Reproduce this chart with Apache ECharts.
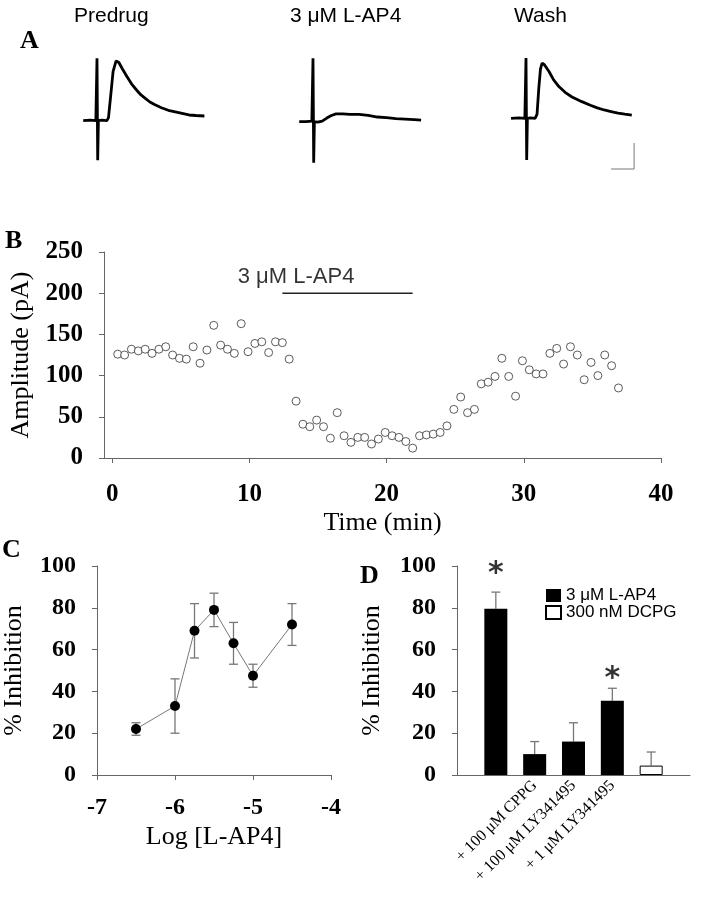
<!DOCTYPE html>
<html><head><meta charset="utf-8">
<script src="https://cdn.jsdelivr.net/npm/echarts@6/dist/echarts.min.js"></script>
<style>html,body{margin:0;padding:0;background:#fff}#c{width:710px;height:899px}</style>
</head><body><div id="c"></div>
<script>
// ---------- Panel A: example traces [ms from stimulus, pA from baseline] ----------
const tracePredrug = [[-6,0],[-3,1],[-0.5,0],[0,0],[0,120],[0.3,-76],[0.6,0],[2,1],[4.3,0],[5,6],[6,50],[7,95],[8.3,115],[9.5,112],[11,100],[13,85],[15,71],[17,60],[19,50],[21,43],[23,36],[25,31],[28,25],[31,20],[34,17],[37,14],[40,11],[43,10],[46.7,9]];
const traceLAP4 = [[-6,0],[-3,0],[-0.5,1],[0,0],[0,122],[0.3,-79],[0.6,0],[2,-1],[4,1],[6,7],[8,12],[10,15],[13,15],[16,14],[20,14],[24,12],[28,9],[32,8],[36,6],[40,5],[44,4],[47,3]];
const traceWash = [[-6.5,0],[-3,1],[-0.5,0],[0,0],[0,116],[0.3,-80],[0.6,0],[2,1],[4,0],[4.8,8],[5.6,60],[6.3,95],[7,106],[8,103],[10,90],[12,74],[14.3,61],[17,50],[20,41],[24.3,32],[28,25],[31,20],[34,16],[37,13],[40,10],[43,8],[46,6.3]];
const scaleBar = [[37,-97.5],[47,-97.5],[47,-47.5]];
const traceTitles = ['Predrug', '3 \u03bcM L-AP4', 'Wash'];

// ---------- Panel B: amplitude time course ----------
const timeMin = [0.4,0.9,1.4,1.9,2.4,2.9,3.4,3.9,4.4,4.9,5.4,5.9,6.4,6.9,7.4,7.9,8.4,8.9,9.4,9.9,10.4,10.9,11.4,11.9,12.4,12.9,13.4,13.9,14.4,14.9,15.4,15.9,16.4,16.9,17.4,17.9,18.4,18.9,19.4,19.9,20.4,20.9,21.4,21.9,22.4,22.9,23.4,23.9,24.4,24.9,25.4,25.9,26.4,26.9,27.4,27.9,28.4,28.9,29.4,29.9,30.4,30.9,31.4,31.9,32.4,32.9,33.4,33.9,34.4,34.9,35.4,35.9,36.4,36.9];
const amplitude = [126,125,132,130,132,127,132,135,125,121,120,135,115,131,161,137,132,127,163,129,139,141,128,141,140,120,69,
  41,38,46,38,24,55,27,19,25,25,17,23,31,27,25,20,12,27,
  28,29,31,39,59,74,55,59,90,92,99,121,99,75,118,107,102,102,127,133,114,135,125,95,116,100,125,112,85];
const drugBar = [[12.4,200],[21.9,200]];
const drugLabel = [[13.4,220]];
const bXTicks = [0,10,20,30,40];

// ---------- Panel C: concentration-response ----------
const logConc = [-6.5,-6,-5.75,-5.5,-5.25,-5,-4.5];
const inhibC = [22,33,69,79,63,47.5,72];
const semC = [3,13,13,8,10,5.5,10];

// ---------- Panel D: antagonists ----------
const dCategories = ['', '', '+ 100 \u03bcM CPPG', '+ 100 \u03bcM LY341495', '+ 1 \u03bcM LY341495', '', ''];
const lap4Vals = [null, 79.5, 10, 16, 35.5, null, null];
const dcpgVals = [null, null, null, null, null, 4.5, null];
const semD = [null, 8, 6, 9, 6, 6.5, null];
const starY = [null, 96, null, null, 46, null, null];

const SERIF = 'Liberation Serif', SANS = 'Liberation Sans';
const axisCol = '#666';

function pairs(xs, ys) { return xs.map((x, i) => [x, ys[i]]); }

function hiddenAxis(min, max) {
  return { type: 'value', min, max, show: false };
}
function numAxis(o, fs) {
  return Object.assign({
    type: 'value',
    axisLine: { show: true, onZero: false, lineStyle: { color: axisCol, width: 1 } },
    axisTick: { show: true, length: 5, lineStyle: { color: axisCol } },
    splitLine: { show: false },
    axisLabel: { color: '#000', fontFamily: SERIF, fontWeight: 'bold', fontSize: fs, margin: 21 },
    nameTextStyle: { color: '#000', fontFamily: SERIF, fontSize: 26 }
  }, o);
}

const traceGrids = [
  { left: 83.2, top: 55.7, width: 124.2, height: 119.6 },
  { left: 299.2, top: 56.7, width: 124.2, height: 119.6 },
  { left: 512.2, top: 53.3, width: 124.2, height: 119.6 }
];

function errRender(upOnly) {
  return function (params, api) {
    const x = api.value(0), y = api.value(1), e = api.value(2);
    const hi = api.coord([x, y + e]);
    const lo = api.coord(upOnly ? [x, y] : [x, y - e]);
    const w = 4.5;
    const st = { stroke: '#777', lineWidth: 1.3 };
    const ch = [
      { type: 'line', shape: { x1: hi[0], y1: hi[1], x2: lo[0], y2: lo[1] }, style: st },
      { type: 'line', shape: { x1: hi[0] - w, y1: hi[1], x2: hi[0] + w, y2: hi[1] }, style: st }
    ];
    if (!upOnly) ch.push({ type: 'line', shape: { x1: lo[0] - w, y1: lo[1], x2: lo[0] + w, y2: lo[1] }, style: st });
    return { type: 'group', children: ch };
  };
}

const traceLine = (data, idx) => ({
  type: 'line', xAxisIndex: idx, yAxisIndex: idx, data, symbol: 'none', clip: false,
  lineStyle: { color: '#000', width: 2.8 }, silent: true, animation: false
});

const chart = echarts.init(document.getElementById('c'), null, { renderer: 'canvas' });
chart.setOption({
  animation: false,
  backgroundColor: '#fff',
  grid: [
    ...traceGrids,
    { left: 97, top: 252, width: 564, height: 206 },
    { left: 97, top: 566, width: 234, height: 209 },
    { left: 457, top: 566, width: 233, height: 209 }
  ],
  xAxis: [
    Object.assign(hiddenAxis(-6, 48), { gridIndex: 0 }),
    Object.assign(hiddenAxis(-6, 48), { gridIndex: 1 }),
    Object.assign(hiddenAxis(-6, 48), { gridIndex: 2 }),
    numAxis({
      gridIndex: 3, min: -0.6, max: 40,
      axisTick: { show: true, length: 5, lineStyle: { color: axisCol }, customValues: bXTicks },
      axisLabel: { color: '#000', fontFamily: SERIF, fontWeight: 'bold', fontSize: 25, margin: 24, customValues: bXTicks },
      name: 'Time (min)', nameLocation: 'middle', nameGap: 52
    }, 25),
    numAxis({
      gridIndex: 4, min: -7, max: -4, interval: 1,
      axisLabel: { color: '#000', fontFamily: SERIF, fontWeight: 'bold', fontSize: 24, margin: 21 },
      name: 'Log [L-AP4]', nameLocation: 'middle', nameGap: 49
    }, 24),
    {
      type: 'category', gridIndex: 5, data: dCategories, boundaryGap: false,
      axisLine: { show: true, onZero: false, lineStyle: { color: axisCol, width: 1 } },
      axisTick: { show: false },
      axisLabel: { interval: 0, rotate: 45, color: '#000', fontFamily: SERIF, fontSize: 16, margin: 8 }
    }
  ],
  yAxis: [
    Object.assign(hiddenAxis(-105, 125), { gridIndex: 0 }),
    Object.assign(hiddenAxis(-105, 125), { gridIndex: 1 }),
    Object.assign(hiddenAxis(-105, 125), { gridIndex: 2 }),
    numAxis({ gridIndex: 3, min: 0, max: 250, interval: 50, name: 'Amplitude (pA)', nameLocation: 'middle', nameGap: 70 }, 25),
    numAxis({ gridIndex: 4, min: 0, max: 100, interval: 20, name: '% Inhibition', nameLocation: 'middle', nameGap: 70 }, 24),
    numAxis({ gridIndex: 5, min: 0, max: 100, interval: 20, name: '% Inhibition', nameLocation: 'middle', nameGap: 72 }, 24)
  ],
  legend: {
    data: ['3 \u03bcM L-AP4', '300 nM DCPG'], orient: 'vertical', left: 545, top: 587, padding: 0,
    icon: 'rect', itemWidth: 15, itemHeight: 13, itemGap: 0,
    textStyle: { color: '#000', fontFamily: SANS, fontSize: 17 },
    selectedMode: false
  },
  graphic: [
    { type: 'text', left: 20, top: 28, style: { text: 'A', font: 'bold 26px "Liberation Serif"', fill: '#000' } },
    { type: 'text', left: 5, top: 228, style: { text: 'B', font: 'bold 26px "Liberation Serif"', fill: '#000' } },
    { type: 'text', left: 2, top: 537, style: { text: 'C', font: 'bold 26px "Liberation Serif"', fill: '#000' } },
    { type: 'text', left: 360, top: 563, style: { text: 'D', font: 'bold 26px "Liberation Serif"', fill: '#000' } },
    { type: 'text', left: 74, top: 6, style: { text: traceTitles[0], font: '21px "Liberation Sans"', fill: '#000' } },
    { type: 'text', left: 290, top: 6, style: { text: traceTitles[1], font: '21px "Liberation Sans"', fill: '#000' } },
    { type: 'text', left: 514, top: 6, style: { text: traceTitles[2], font: '21px "Liberation Sans"', fill: '#000' } }
  ],
  series: [
    traceLine(tracePredrug, 0),
    traceLine(traceLAP4, 1),
    traceLine(traceWash, 2),
    { type: 'line', xAxisIndex: 2, yAxisIndex: 2, data: scaleBar, symbol: 'none', clip: false,
      lineStyle: { color: '#777', width: 1 }, silent: true },
    // Panel B
    { type: 'line', xAxisIndex: 3, yAxisIndex: 3, data: drugBar, symbol: 'none',
      lineStyle: { color: '#222', width: 1.5 }, silent: true },
    { type: 'scatter', xAxisIndex: 3, yAxisIndex: 3, data: drugLabel, symbolSize: 0, silent: true,
      label: { show: true, position: 'inside', formatter: '3 \u03bcM L-AP4', color: '#000', fontFamily: SANS, fontSize: 22 } },
    { type: 'scatter', xAxisIndex: 3, yAxisIndex: 3, data: pairs(timeMin, amplitude), symbol: 'circle', symbolSize: 8,
      itemStyle: { color: '#fff', borderColor: '#333', borderWidth: 1 }, silent: true },
    // Panel C
    { type: 'custom', xAxisIndex: 4, yAxisIndex: 4, renderItem: errRender(false),
      data: logConc.map((x, i) => [x, inhibC[i], semC[i]]), silent: true, z: 1 },
    { type: 'line', xAxisIndex: 4, yAxisIndex: 4, data: pairs(logConc, inhibC), symbol: 'circle', symbolSize: 10,
      itemStyle: { color: '#000' }, lineStyle: { color: '#777', width: 1 }, silent: true, z: 3 },
    // Panel D
    { type: 'custom', xAxisIndex: 5, yAxisIndex: 5, renderItem: errRender(true),
      data: semD.map((e, i) => e == null ? null : [i, (lap4Vals[i] != null ? lap4Vals[i] : dcpgVals[i]), e]).filter(d => d), silent: true, z: 1 },
    { type: 'bar', name: '3 \u03bcM L-AP4', xAxisIndex: 5, yAxisIndex: 5, data: lap4Vals, barWidth: 23, barGap: '-100%',
      itemStyle: { color: '#000' }, silent: true, z: 2 },
    { type: 'bar', name: '300 nM DCPG', xAxisIndex: 5, yAxisIndex: 5, data: dcpgVals, barWidth: 23, barGap: '-100%',
      itemStyle: { color: '#fff', borderColor: '#000', borderWidth: 1 }, silent: true, z: 2 },
    { type: 'scatter', xAxisIndex: 5, yAxisIndex: 5, symbolSize: 0, silent: true,
      data: starY.map((y, i) => y == null ? null : [i, y]).filter(d => d),
      label: { show: true, position: 'inside', formatter: '*', color: '#000', fontFamily: 'DejaVu Sans', fontWeight: 'bold', fontSize: 30 } }
  ]
});
</script></body></html>
